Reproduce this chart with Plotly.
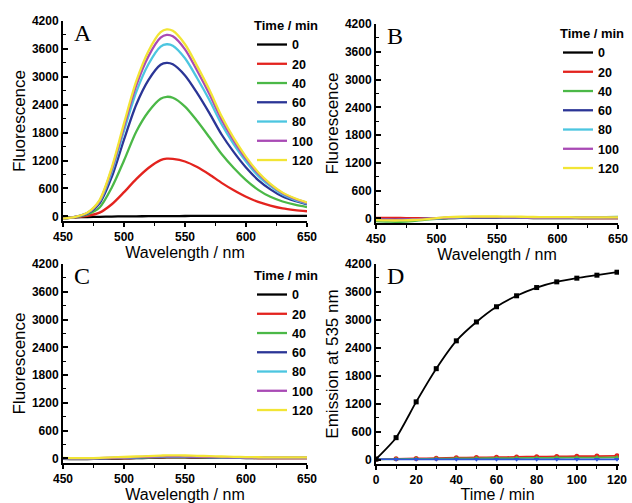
import plotly.graph_objects as go

# ---------------- data ----------------
wavelength = [450, 460, 470, 480, 490, 500, 510, 520, 530, 535, 540,
              550, 560, 570, 580, 590, 600, 610, 620, 630, 640, 650]
time_labels = ["0", "20", "40", "60", "80", "100", "120"]
colors = ["#000000", "#e3231e", "#4bb847", "#2b3596", "#4cc6e0", "#a94ab5", "#f2e535"]

# Panel A
A_0 = [-25, -20, -15, -10, -5, 0, 0, 5, 5, 5, 5, 8, 10, 10, 10, 12, 12, 12, 12, 12, 12, 12]
A_20 = [-40, -20, 10, 80, 260, 520, 800, 1040, 1210, 1240, 1235, 1180, 1060, 900, 720, 560, 420, 310, 230, 170, 135, 110]
A_40 = [-50, -15, 40, 190, 620, 1200, 1820, 2250, 2530, 2570, 2550, 2360, 2050, 1700, 1340, 1040, 780, 570, 420, 320, 250, 200]
A_60 = [-50, -12, 60, 280, 850, 1650, 2400, 2930, 3260, 3300, 3270, 3030, 2650, 2220, 1760, 1380, 1050, 780, 580, 425, 330, 260]
A_80 = [-50, -10, 70, 320, 960, 1840, 2670, 3270, 3650, 3700, 3670, 3400, 2970, 2500, 1980, 1550, 1180, 870, 650, 470, 355, 275]
A_100 = [-50, -10, 75, 335, 1010, 1930, 2810, 3440, 3840, 3900, 3870, 3590, 3130, 2630, 2080, 1630, 1240, 920, 680, 495, 375, 290]
A_120 = [-50, -10, 80, 350, 1050, 2000, 2900, 3550, 3960, 4020, 3990, 3700, 3230, 2720, 2150, 1680, 1280, 950, 700, 510, 390, 300]

# Panel B
B_0 = [0, 0, 0, 0, 0, 0, 5, 10, 10, 10, 10, 10, 10, 10, 8, 8, 5, 5, 5, 5, 5, 5]
B_20 = [10, 10, 8, 5, 5, 5, 10, 15, 15, 15, 15, 15, 15, 12, 12, 10, 10, 10, 8, 8, 8, 8]
B_40 = [-60, -70, -75, -60, -30, -10, 5, 15, 20, 20, 20, 20, 20, 18, 15, 15, 15, 15, 15, 20, 25, 30]
B_60 = [-20, -25, -25, -20, -10, 0, 10, 15, 15, 15, 15, 15, 15, 15, 12, 12, 10, 10, 10, 10, 10, 10]
B_80 = [-30, -35, -35, -25, -10, 0, 15, 20, 25, 25, 25, 25, 22, 20, 18, 15, 15, 15, 15, 15, 20, 25]
B_100 = [-20, -25, -25, -20, -10, 5, 15, 25, 25, 25, 25, 25, 22, 20, 18, 15, 15, 15, 15, 15, 15, 15]
B_120 = [-40, -45, -45, -35, -20, 5, 25, 35, 40, 40, 40, 40, 38, 35, 30, 28, 25, 25, 22, 22, 20, 20]

# Panel C
C_0 = [-10, -15, -15, -10, -5, 0, 5, 10, 15, 20, 20, 20, 18, 15, 12, 10, 8, 6, 5, 5, 5, 5]
C_20 = [-5, -10, -10, -5, 0, 5, 10, 15, 20, 25, 25, 25, 22, 18, 15, 12, 10, 8, 6, 5, 5, 5]
C_40 = [0, -5, -5, 0, 5, 10, 15, 20, 28, 30, 30, 28, 25, 20, 18, 15, 12, 10, 10, 10, 10, 10]
C_60 = [0, -5, -5, 0, 5, 10, 18, 25, 30, 35, 35, 32, 28, 24, 20, 16, 14, 12, 10, 10, 10, 10]
C_80 = [5, 0, 0, 5, 10, 15, 22, 30, 38, 40, 40, 38, 34, 28, 24, 20, 16, 14, 12, 12, 12, 12]
C_100 = [5, 0, 0, 5, 12, 18, 26, 35, 42, 45, 45, 42, 38, 32, 26, 22, 18, 15, 14, 14, 14, 14]
C_120 = [10, 5, 5, 10, 20, 30, 40, 50, 60, 65, 65, 62, 55, 48, 40, 34, 28, 24, 22, 22, 22, 22]

# Panel D
time_min = [0, 10, 20, 30, 40, 50, 60, 70, 80, 90, 100, 110, 120]
D_black = [15, 475, 1243, 1955, 2552, 2957, 3283, 3518, 3695, 3817, 3896, 3960, 4024]
D_red = [10, 20, 28, 36, 44, 50, 56, 62, 68, 72, 76, 80, 85]
D_green = [10, 15, 20, 24, 28, 32, 35, 38, 41, 44, 46, 48, 50]
D_blue = [15, 10, 10, 10, 10, 10, 10, 10, 10, 10, 10, 10, 10]

y_ticks = [0, 600, 1200, 1800, 2400, 3000, 3600, 4200]
wl_ticks = [450, 500, 550, 600, 650]
t_ticks = [0, 20, 40, 60, 80, 100, 120]

# ---------------- figure ----------------
W, H = 632, 503
fig = go.Figure()

panels = [
    ("x", "y", "legend", [A_0, A_20, A_40, A_60, A_80, A_100, A_120]),
    ("x2", "y2", "legend2", [B_0, B_20, B_40, B_60, B_80, B_100, B_120]),
    ("x3", "y3", "legend3", [C_0, C_20, C_40, C_60, C_80, C_100, C_120]),
]
for xa, ya, lg, series in panels:
    for lab, col, ys in zip(time_labels, colors, series):
        fig.add_trace(go.Scatter(
            x=wavelength, y=ys, mode="lines", name=lab,
            line=dict(color=col, width=2.3, shape="spline", smoothing=0.8),
            xaxis=xa, yaxis=ya, legend=lg))

for ys, col, sym in [(D_red, "#e3231e", "circle"), (D_green, "#4bb847", "triangle-up"),
                     (D_blue, "#2f55d8", "triangle-down"), (D_black, "#000000", "square")]:
    fig.add_trace(go.Scatter(
        x=time_min, y=ys, mode="lines+markers", showlegend=False,
        line=dict(color=col, width=1.8, shape="spline", smoothing=0.6),
        marker=dict(symbol=sym, size=5, color=col),
        xaxis="x4", yaxis="y4"))

tickfont = dict(family="Liberation Sans, Arial", size=12, color="black", weight="bold")
xtitlefont = dict(family="Liberation Sans, Arial", size=16, color="black")
ytitlefont = dict(family="Liberation Sans, Arial", size=17, color="black")


def px_x(a, b):
    return [a / W, b / W]


def px_y(top, bottom):
    return [1 - bottom / H, 1 - top / H]


def xaxis(dom, anchor, rng, ticks, dminor, title):
    return dict(domain=dom, anchor=anchor, range=rng, tickvals=ticks,
                showline=True, linecolor="black", linewidth=2, showgrid=False,
                zeroline=False, ticks="outside", ticklen=4, tickwidth=1.5,
                tickcolor="black", tickfont=tickfont,
                minor=dict(ticks="outside", ticklen=3, dtick=dminor, tickcolor="black", tickwidth=1.2),
                title=dict(text=title, font=xtitlefont, standoff=0), automargin=False)


def yaxis(dom, anchor, rng, title):
    return dict(domain=dom, anchor=anchor, range=rng, tickvals=y_ticks,
                showline=True, linecolor="black", linewidth=2, showgrid=False,
                zeroline=False, ticks="inside", ticklen=5, tickwidth=1.5,
                tickcolor="black", tickfont=tickfont,
                minor=dict(ticks="inside", ticklen=3, dtick=300, tickcolor="black", tickwidth=1.2),
                title=dict(text=title, font=ytitlefont, standoff=2), automargin=False)


legend_common = dict(
    bgcolor="rgba(0,0,0,0)", borderwidth=0, xanchor="left", yanchor="top",
    font=dict(family="Liberation Sans, Arial", size=12.5, color="black", weight="bold"),
    title=dict(text="Time / min", font=dict(family="Liberation Sans, Arial", size=13,
                                             color="black", weight="bold")),
    tracegroupgap=0,
)

fig.update_layout(
    width=W, height=H, margin=dict(l=0, r=0, t=0, b=0),
    paper_bgcolor="white", plot_bgcolor="white",
    xaxis=xaxis(px_x(63, 307), "y", [450, 650], wl_ticks, 25, "Wavelength / nm"),
    yaxis=yaxis(px_y(21, 221), "x", [-100, 4200], "Fluorescence"),
    xaxis2=xaxis(px_x(376, 618), "y2", [450, 650], wl_ticks, 25, "Wavelength / nm"),
    yaxis2=yaxis(px_y(24, 223), "x2", [-100, 4200], "Fluorescence"),
    xaxis3=xaxis(px_x(63, 307), "y3", [450, 650], wl_ticks, 25, "Wavelength / nm"),
    yaxis3=yaxis(px_y(264, 463), "x3", [-100, 4200], "Fluorescence"),
    xaxis4=xaxis(px_x(376, 619), "y4", [0, 121], t_ticks, 10, "Time / min"),
    yaxis4=yaxis(px_y(264, 464), "x4", [-90, 4200], "Emission at 535 nm"),
    legend=dict(legend_common, x=252 / W, y=1 - 13 / H),
    legend2=dict(legend_common, x=558 / W, y=1 - 21 / H),
    legend3=dict(legend_common, x=252 / W, y=1 - 263 / H),
    showlegend=True,
)

letter_font = dict(family="Liberation Serif, Times New Roman", size=24, color="black")
for letter, xp, yp in [("A", 72, 18), ("B", 385, 21), ("C", 72, 261), ("D", 385, 261)]:
    fig.add_annotation(text=letter, x=xp / W, y=1 - yp / H, xref="paper", yref="paper",
                       xanchor="left", yanchor="top", showarrow=False, font=letter_font)

fig.write_html(
    "out.html",
    config={"displayModeBar": False},
    post_script="document.body.style.margin='0';document.body.style.overflow='hidden';",
)
